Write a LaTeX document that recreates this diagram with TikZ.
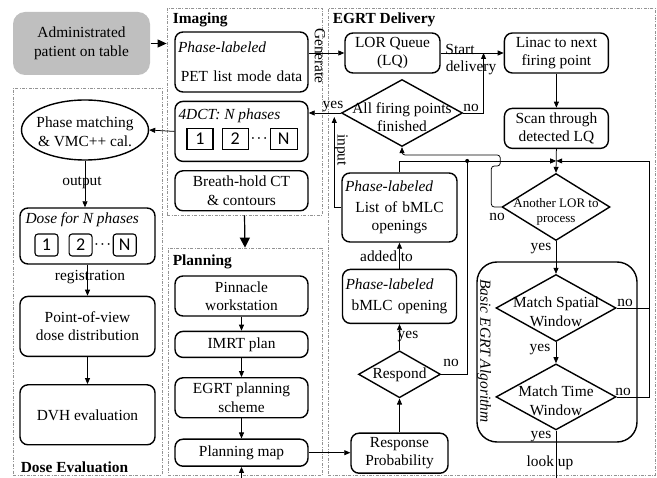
\documentclass[tikz,border=0pt]{standalone}
\usepackage{fontspec}
\setmainfont{Liberation Serif}
\newfontfamily\numfont{Carlito}
\usetikzlibrary{arrows.meta, positioning, shapes.geometric, calc}

\newcommand{\figfont}{\fontsize{15.4}{18.5}\selectfont}
\newcommand{\tagline}[1]{\makebox[\hsize][l]{\textit{#1}}}
\newcommand{\dotsfig}{{\fontsize{13}{13}\selectfont\boldmath$\cdots$}}

\begin{document}
\begin{tikzpicture}[
    x=1pt, y=1pt,
    every node/.style={font=\figfont},
    box/.style={draw, line width=1.4pt, rounded corners=8pt, align=center, inner sep=2pt},
    colbox/.style={box, minimum width=133pt},
    tagbox/.style={box, inner xsep=3pt},
    dia/.style={draw, diamond, line width=1.4pt, inner sep=0pt},
    dtxt/.style={align=center, inner sep=0pt},
    grp/.style={draw=gray!85, dash pattern=on 3pt off 1.5pt on 0.8pt off 1.5pt, line width=0.8pt, inner sep=0pt},
    grptitle/.style={font=\figfont\bfseries, inner sep=1pt},
    subtitle/.style={font=\figfont\itshape, inner sep=1pt, anchor=north west},
    cell/.style={draw, line width=1.1pt, inner sep=0pt, minimum height=21pt, font=\numfont\fontsize{18}{18}\selectfont},
    lbl/.style={inner sep=1pt},
    conn/.style={line width=0.75pt},
    arr/.style={-{Triangle[length=6pt, width=5pt]}, line width=0.75pt},
    bigarr/.style={-{Triangle[length=9pt, width=8pt]}, line width=0.9pt},
    thickarr/.style={-{Triangle[length=10pt, width=10pt]}, line width=1.2pt}
  ]
  \useasboundingbox (0,0) rectangle (657,-478);

  % group frames
  \node[grp, minimum width=155pt, minimum height=207pt] (imaging) at (244.5,-111.5) {};
  \node[grp, minimum width=154pt, minimum height=227pt] (planning) at (245,-361.5) {};
  \node[grp, minimum width=149pt, minimum height=387pt] (doseev) at (87.5,-281.5) {};
  \node[grp, minimum width=327pt, minimum height=467pt] (delivery) at (491.5,-241.5) {};
  \node[grptitle, anchor=north west] (imaging-t) at ([shift={(5,-4)}]imaging.north west) {Imaging};
  \node[grptitle, anchor=north west] (planning-t) at ([shift={(4,-6)}]planning.north west) {Planning};
  \node[grptitle, anchor=north west] (delivery-t) at ([shift={(4,-4)}]delivery.north west) {EGRT Delivery};
  \node[grptitle, anchor=south west] (doseev-t) at ([shift={(7,2)}]doseev.south west) {Dose Evaluation};

  % patient
  \node[box, draw=none, fill=gray!50, rounded corners=12pt, minimum width=137pt, minimum height=63pt] (admin) at (81.5,-43.5) {Administrated\\patient on table};

  % imaging
  \node[tagbox, text width=127pt, minimum height=60pt] (pet) at (241.5,-62) {\tagline{Phase-labeled}\\[10.5pt] PET list mode data};
  \node[colbox, minimum height=60pt, below=8pt of pet] (ct4d) {};
  \node[subtitle] (ct4d-t) at ([shift={(3,-7)}]ct4d.north west) {4DCT: N phases};
  \node[cell, minimum width=26pt] (c1) at ([shift={(-41.5,-7.5)}]ct4d.center) {1};
  \node[cell, minimum width=26pt, right=8pt of c1] (c2) {2};
  \node[cell, minimum width=27pt, right=21pt of c2] (cn) {N};
  \node[inner sep=0pt] (cdots) at ($(c2.east)!0.5!(cn.west)$) {\dotsfig};
  \node[colbox, minimum height=40pt, below=8pt of ct4d] (breath) {Breath-hold CT\\\& contours};

  % planning
  \node[colbox, minimum height=40pt] (pinnacle) at (241.5,-296) {Pinnacle\\workstation};
  \node[colbox, minimum height=26pt, below=14pt of pinnacle] (imrt) {IMRT plan};
  \node[colbox, minimum height=40pt, below=19pt of imrt] (egrtplan) {EGRT planning\\scheme};
  \node[colbox, minimum height=27pt, below=20pt of egrtplan] (pmap) {Planning map};

  % dose evaluation
  \node[draw, ellipse, line width=1.4pt, minimum width=127pt, minimum height=60pt, inner sep=0pt] (phase) at (85,-130) {};
  \node[dtxt] (phase-t) at ([yshift=-2]phase.center) {Phase matching\\\& VMC++ cal.};
  \node[box, minimum width=135pt, minimum height=56pt] (dose) at (87.5,-236) {};
  \node[subtitle] (dose-t) at ([shift={(5,-4)}]dose.north west) {Dose for N phases};
  \node[cell, rounded corners=3pt, minimum width=23pt, minimum height=22pt] (d1) at ([shift={(-41,-9)}]dose.center) {1};
  \node[cell, rounded corners=3pt, minimum width=23pt, minimum height=22pt, right=10pt of d1] (d2) {2};
  \node[cell, rounded corners=3pt, minimum width=23pt, minimum height=22pt, right=20pt of d2] (dn) {N};
  \node[inner sep=0pt] (ddots) at ($(d2.east)!0.5!(dn.west)$) {\dotsfig};
  \node[box, minimum width=135pt, minimum height=60pt, below=31pt of dose] (pov) {Point-of-view\\dose distribution};
  \node[box, minimum width=135pt, minimum height=60pt, below=27pt of pov] (dvh) {DVH evaluation};

  % EGRT delivery
  \node[box, minimum width=95pt, minimum height=40pt] (lq) at (392.5,-53) {LOR Queue\\(LQ)};
  \node[box, minimum width=104pt, minimum height=40pt, right=63pt of lq] (linac) {Linac to next\\firing point};
  \node[box, minimum width=104pt, minimum height=40pt, below=34pt of linac] (scan) {Scan through\\detected LQ};
  \node[dia, minimum width=121pt, minimum height=67pt] (fin) at (402,-113) {};
  \node[dtxt] (fin-t) at ([yshift=-4]fin.center) {All firing points\\finished};
  \node[dia, minimum width=108pt, minimum height=67pt] (another) at (556,-207) {};
  \node[dtxt, font=\fontsize{13}{15.5}\selectfont] (another-t) at ([yshift=-5]another.center) {Another LOR to\\process};
  \coordinate (jn) at ($(scan.south)!0.5!(another.north)$);

  % basic algorithm
  \node[box, rounded corners=20pt, minimum width=160pt, minimum height=180pt] (algo) at (557,-352) {};
  \node[rotate=-90, font=\figfont\itshape, inner sep=0pt] (algo-t) at (484,-351) {Basic EGRT Algorithm};
  \node[dia, minimum width=120pt, minimum height=67pt] (spatial) at (556,-308) {};
  \node[dtxt] (spatial-t) at ([yshift=-4]spatial.center) {Match Spatial\\Window};
  \node[dia, minimum width=120pt, minimum height=66pt, below=21pt of spatial] (time) {};
  \node[dtxt] (time-t) at ([yshift=-4]time.center) {Match Time\\Window};

  % bMLC track
  \node[tagbox, text width=109pt, minimum height=69pt] (list) at (399.5,-207.5) {\tagline{Phase-labeled}\\[2pt] List of bMLC\\openings};
  \node[tagbox, text width=108pt, minimum height=54pt, below=26pt of list] (bmlc) {\tagline{Phase-labeled}\\[3pt] bMLC opening};
  \node[dia, minimum width=82pt, minimum height=47pt, below=26pt of bmlc] (respond) {};
  \node[dtxt] (respond-t) at (respond.center) {Respond};
  \node[box, minimum width=97pt, minimum height=40pt, below=34pt of respond] (resp) {Response\\Probability};

  % imaging and dose arrows
  \draw[bigarr] (admin.east) -- (admin.east -| imaging.west);
  \draw[arr] (pet.east |- lq.west) -- (lq.west);
  \node[lbl, rotate=-90] (gen) at (320,-56) {Generate};
  \draw[arr] (ct4d.west) -- (phase.east);
  \draw[thickarr] (imaging.south) -- (planning.north);
  \draw[arr] (phase.south) -- (phase.south |- dose.north);
  \node[lbl] (out) at (82,-183) {output};
  \draw[arr] (dose.south) -- (dose.south |- pov.north);
  \node[lbl] (reg) at (90,-277) {registration};
  \draw[arr] (pov) -- (dvh);

  % planning arrows
  \draw[arr] (pinnacle) -- (imrt);
  \draw[arr] (imrt) -- (egrtplan);
  \draw[arr] (egrtplan) -- (pmap);
  \draw[arr] (pmap.east) -- (pmap.east -| resp.west);

  % delivery loop
  \draw[arr] (lq) -- (linac);
  \node[lbl] (start) at (460,-49.5) {Start};
  \node[lbl] (deliv) at (471,-68) {delivery};
  \draw[arr] (fin.east) -| ($(lq.east)!0.68!(linac.west)$);
  \node[lbl] (no-f) at (471,-108) {no};
  \draw[arr] (fin.west) -- (fin.west -| ct4d.east);
  \node[lbl] (yes-f) at (333,-107) {yes};
  \coordinate (inp) at ($(list.west |- fin.west)+(-7,-4)$);
  \draw[arr] (list.west) -| (inp);
  \node[lbl, rotate=-90] (input) at (341,-150) {input};
  \draw[arr] (linac) -- (scan);
  \draw[conn] (scan.south) -- (jn);
  \draw[arr] (jn) -- (another.north);
  \draw[arr] (list.north) |- (jn);
  \draw[arr, rounded corners=3pt] (another.west) -- ++(-10,0) -- ++(0,41) -- ++(9,0) -- ++(0,11) -| (fin.south);
  \node[lbl] (no-a) at (497,-217) {no};

  % algorithm arrows
  \draw[arr] (another) -- (spatial);
  \node[lbl] (yes-a) at (541,-249) {yes};
  \draw[arr] (spatial) -- (time);
  \node[lbl] (yes-s) at (540,-350) {yes};
  \coordinate (rl) at ([xshift=33pt]time.east);
  \draw[conn] (spatial.east) -- (spatial.east -| rl);
  \draw[arr] (time.east) -| (rl |- jn) -- (jn);
  \node[lbl] (no-s) at (625,-303) {no};
  \node[lbl] (no-t) at (623,-392) {no};
  \node[lbl] (yes-t) at (541,-437) {yes};
  \node[lbl] (lookup) at (550,-463) {look up};
  \draw[arr] (time.south) -- ++(0,-80) -| (pmap.south);

  % response track
  \draw[arr] (resp) -- (respond);
  \draw[arr] (respond) -- (bmlc);
  \node[lbl] (yes-r) at (408,-337) {yes};
  \draw[arr] (bmlc) -- (list);
  \node[lbl] (added) at (386.5,-256) {added to};
  \coordinate (dot) at ([xshift=26pt]respond.east |- jn);
  \draw[conn] (respond.east) -| (dot);
  \fill (dot) circle (2pt);
  \node[lbl] (no-r) at (451,-363) {no};
\end{tikzpicture}
\end{document}
